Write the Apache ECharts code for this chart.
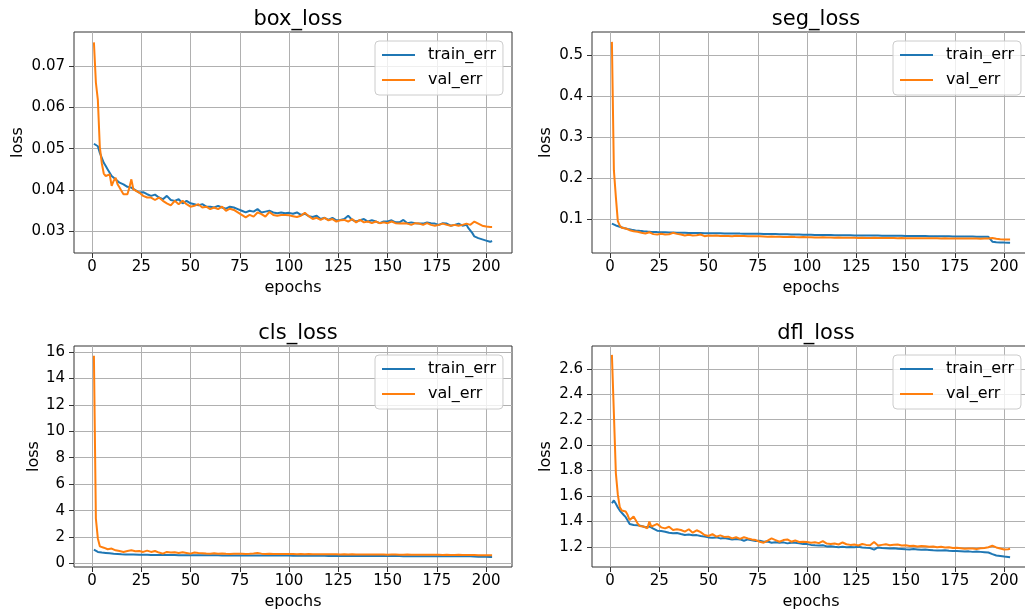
<!DOCTYPE html>
<html>
<head>
<meta charset="utf-8">
<title>losses</title>
<script src="https://cdn.jsdelivr.net/npm/echarts@6/dist/echarts.min.js"></script>
<style>
  html, body { margin: 0; padding: 0; background: #fff; }
  #main { width: 1025px; height: 611px; }
</style>
</head>
<body>
<div id="main"></div>
<script>
const epochs = [1,2,3,4,5,6,7,8,9,10,
  11,12,13,14,15,16,17,18,19,20,
  21,22,24,26,28,30,32,33,34,36,
  38,40,42,44,46,48,50,52,54,56,
  58,60,62,64,66,68,70,72,74,76,
  78,80,82,84,86,88,90,92,94,96,
  98,100,102,104,106,108,110,112,114,116,
  118,120,122,124,126,128,130,132,134,136,
  138,140,142,144,146,148,150,152,154,156,
  158,160,162,164,166,168,170,172,174,176,
  178,180,182,184,186,188,190,191,192,193,
  194,196,198,200,202,203]

const boxTrain = [0.0512,0.0510,0.0506,0.0490,0.0478,0.0466,0.0458,0.0450,0.0442,0.0434,
  0.0430,0.0426,0.0422,0.0418,0.0416,0.0414,0.0411,0.0408,0.0407,0.0406,
  0.0403,0.0400,0.0394,0.0395,0.0390,0.0386,0.0389,0.0385,0.0382,0.0378,
  0.0386,0.0376,0.0374,0.0378,0.0368,0.0374,0.0368,0.0366,0.0363,0.0366,
  0.0360,0.0360,0.0358,0.0362,0.0358,0.0355,0.0360,0.0358,0.0354,0.0350,
  0.0346,0.0350,0.0348,0.0354,0.0346,0.0348,0.0350,0.0346,0.0344,0.0346,
  0.0344,0.0345,0.0343,0.0346,0.0340,0.0343,0.0337,0.0335,0.0338,0.0330,
  0.0333,0.0328,0.0333,0.0327,0.0328,0.0330,0.0338,0.0328,0.0324,0.0327,
  0.0330,0.0324,0.0327,0.0324,0.0320,0.0324,0.0324,0.0327,0.0322,0.0322,
  0.0328,0.0320,0.0322,0.0320,0.0319,0.0319,0.0322,0.0320,0.0319,0.0316,
  0.0320,0.0319,0.0314,0.0316,0.0319,0.0314,0.0316,0.0308,0.0312,0.0296,
  0.0288,0.0284,0.0281,0.0278,0.0275,0.0277]
const boxVal = [0.0757,0.0660,0.0618,0.0504,0.0465,0.0440,0.0434,0.0432,0.0438,0.0410,
  0.0422,0.0430,0.0414,0.0406,0.0398,0.0390,0.0386,0.0390,0.0406,0.0426,
  0.0402,0.0398,0.0394,0.0386,0.0382,0.0382,0.0376,0.0378,0.0382,0.0374,
  0.0368,0.0363,0.0374,0.0366,0.0374,0.0366,0.0360,0.0362,0.0366,0.0358,
  0.0360,0.0354,0.0358,0.0354,0.0360,0.0350,0.0355,0.0352,0.0346,0.0340,
  0.0334,0.0340,0.0336,0.0346,0.0342,0.0336,0.0347,0.0340,0.0338,0.0340,
  0.0340,0.0339,0.0337,0.0335,0.0338,0.0345,0.0337,0.0330,0.0333,0.0328,
  0.0333,0.0327,0.0330,0.0324,0.0327,0.0328,0.0324,0.0330,0.0322,0.0328,
  0.0322,0.0324,0.0320,0.0324,0.0320,0.0322,0.0320,0.0324,0.0320,0.0319,
  0.0320,0.0319,0.0316,0.0320,0.0319,0.0316,0.0320,0.0316,0.0314,0.0316,
  0.0319,0.0316,0.0314,0.0316,0.0314,0.0316,0.0319,0.0318,0.0316,0.0318,
  0.0324,0.0319,0.0314,0.0312,0.0311,0.0311]

const segTrain = [0.0900,0.0870,0.0855,0.0840,0.0822,0.0805,0.0792,0.0780,0.0768,0.0757,
  0.0748,0.0742,0.0735,0.0730,0.0724,0.0718,0.0714,0.0708,0.0705,0.0700,
  0.0698,0.0696,0.0693,0.0690,0.0689,0.0685,0.0683,0.0681,0.0679,0.0677,
  0.0676,0.0674,0.0673,0.0671,0.0670,0.0668,0.0667,0.0666,0.0664,0.0663,
  0.0662,0.0661,0.0659,0.0659,0.0657,0.0656,0.0656,0.0654,0.0653,0.0652,
  0.0650,0.0648,0.0647,0.0645,0.0643,0.0641,0.0640,0.0637,0.0636,0.0634,
  0.0631,0.0628,0.0627,0.0625,0.0624,0.0622,0.0621,0.0620,0.0619,0.0618,
  0.0617,0.0615,0.0615,0.0613,0.0612,0.0612,0.0610,0.0610,0.0608,0.0608,
  0.0606,0.0606,0.0604,0.0604,0.0602,0.0603,0.0600,0.0600,0.0599,0.0598,
  0.0597,0.0596,0.0595,0.0594,0.0593,0.0592,0.0591,0.0590,0.0589,0.0588,
  0.0587,0.0586,0.0585,0.0584,0.0583,0.0582,0.0581,0.0580,0.0579,0.0578,
  0.0460,0.0448,0.0442,0.0438,0.0435,0.0433]
const segVal = [0.532,0.220,0.155,0.096,0.085,0.080,0.079,0.078,0.076,0.074,
  0.073,0.0716,0.071,0.070,0.069,0.0676,0.067,0.066,0.067,0.069,
  0.066,0.0644,0.0636,0.0652,0.0636,0.064,0.0676,0.0700,0.065,0.0636,
  0.061,0.0627,0.061,0.0618,0.0636,0.0595,0.061,0.0605,0.061,0.0600,
  0.0598,0.0600,0.0592,0.0605,0.0596,0.0598,0.0595,0.0590,0.0594,0.0590,
  0.0585,0.0580,0.0586,0.0578,0.0582,0.0576,0.0575,0.0578,0.0572,0.0570,
  0.0572,0.0566,0.0568,0.0565,0.0562,0.0566,0.0560,0.0562,0.0558,0.0560,
  0.0556,0.0558,0.0554,0.0556,0.0552,0.0554,0.0552,0.0550,0.0553,0.0550,
  0.0548,0.0551,0.0547,0.0549,0.0545,0.0548,0.0546,0.0544,0.0546,0.0543,
  0.0545,0.0542,0.0544,0.0541,0.0543,0.0540,0.0542,0.0539,0.0540,0.0538,
  0.0539,0.0536,0.0538,0.0535,0.0537,0.0534,0.0535,0.0534,0.0536,0.0540,
  0.0550,0.0530,0.0520,0.0515,0.0512,0.0512]

const clsTrain = [1.05,0.93,0.88,0.85,0.83,0.81,0.80,0.78,0.77,0.75,
  0.74,0.73,0.72,0.71,0.70,0.70,0.69,0.69,0.68,0.68,
  0.68,0.67,0.67,0.66,0.66,0.65,0.65,0.65,0.65,0.64,
  0.64,0.64,0.64,0.63,0.63,0.63,0.63,0.63,0.62,0.62,
  0.62,0.62,0.62,0.62,0.61,0.61,0.61,0.61,0.61,0.61,
  0.61,0.60,0.60,0.60,0.60,0.60,0.60,0.60,0.60,0.60,
  0.60,0.60,0.59,0.59,0.59,0.59,0.59,0.59,0.59,0.59,
  0.59,0.58,0.58,0.58,0.58,0.58,0.58,0.58,0.58,0.58,
  0.58,0.57,0.57,0.57,0.57,0.57,0.57,0.57,0.57,0.57,
  0.56,0.56,0.56,0.56,0.56,0.56,0.56,0.56,0.56,0.55,
  0.55,0.55,0.55,0.55,0.55,0.55,0.55,0.55,0.55,0.54,
  0.53,0.52,0.51,0.51,0.50,0.50]
const clsVal = [15.7,3.4,1.9,1.3,1.22,1.2,1.15,1.08,1.12,1.13,
  1.05,1.0,1.02,0.95,0.92,0.88,0.9,0.95,0.92,1.0,
  1.1,0.93,0.95,0.88,0.98,0.88,0.95,1.1,0.83,0.75,
  0.88,0.83,0.85,0.8,0.85,0.8,0.75,0.83,0.8,0.78,
  0.76,0.75,0.77,0.75,0.76,0.74,0.73,0.75,0.74,0.75,
  0.73,0.74,0.76,0.8,0.75,0.73,0.74,0.72,0.73,0.72,
  0.73,0.72,0.72,0.71,0.72,0.71,0.72,0.71,0.70,0.71,
  0.70,0.71,0.70,0.70,0.69,0.70,0.69,0.70,0.69,0.69,
  0.68,0.69,0.68,0.69,0.68,0.68,0.67,0.68,0.69,0.67,
  0.67,0.68,0.67,0.67,0.66,0.67,0.66,0.66,0.67,0.66,
  0.65,0.66,0.65,0.65,0.66,0.65,0.64,0.65,0.64,0.64,
  0.64,0.63,0.63,0.62,0.62,0.62]

const dflTrain = [1.543,1.565,1.538,1.51,1.485,1.47,1.45,1.433,1.406,1.38,
  1.372,1.372,1.371,1.37,1.367,1.364,1.36,1.354,1.357,1.36,
  1.35,1.343,1.327,1.324,1.319,1.311,1.306,1.31,1.308,1.30,
  1.293,1.296,1.29,1.292,1.285,1.28,1.274,1.272,1.274,1.266,
  1.269,1.264,1.258,1.262,1.258,1.248,1.258,1.252,1.245,1.248,
  1.24,1.242,1.232,1.235,1.232,1.235,1.227,1.232,1.232,1.227,
  1.221,1.221,1.215,1.212,1.21,1.212,1.203,1.205,1.20,1.197,
  1.2,1.197,1.198,1.196,1.20,1.195,1.192,1.19,1.178,1.195,
  1.19,1.188,1.186,1.188,1.184,1.183,1.18,1.179,1.182,1.179,
  1.176,1.178,1.175,1.172,1.171,1.17,1.172,1.168,1.166,1.166,
  1.165,1.163,1.164,1.16,1.162,1.16,1.158,1.157,1.155,1.15,
  1.142,1.131,1.127,1.123,1.12,1.118]
const dflVal = [2.71,2.25,1.78,1.61,1.512,1.485,1.496,1.477,1.45,1.41,
  1.40,1.438,1.43,1.385,1.364,1.353,1.36,1.372,1.346,1.398,
  1.358,1.36,1.38,1.353,1.345,1.358,1.332,1.34,1.338,1.332,
  1.319,1.338,1.311,1.33,1.315,1.293,1.285,1.30,1.28,1.29,
  1.278,1.28,1.266,1.275,1.262,1.275,1.266,1.258,1.253,1.24,
  1.232,1.248,1.266,1.253,1.24,1.253,1.258,1.24,1.25,1.238,
  1.24,1.237,1.232,1.235,1.229,1.245,1.225,1.222,1.226,1.218,
  1.234,1.22,1.215,1.218,1.21,1.222,1.215,1.212,1.237,1.21,
  1.215,1.22,1.212,1.216,1.218,1.21,1.212,1.206,1.208,1.203,
  1.207,1.205,1.20,1.203,1.197,1.20,1.195,1.197,1.19,1.192,
  1.188,1.184,1.186,1.186,1.183,1.188,1.19,1.192,1.196,1.202,
  1.208,1.195,1.187,1.179,1.18,1.184]

// tick labels
const xTicks = [0, 25, 50, 75, 100, 125, 150, 175, 200]
const boxTicks = [0.03, 0.04, 0.05, 0.06, 0.07]
const segTicks = [0.1, 0.2, 0.3, 0.4, 0.5]
const clsTicks = [0, 2, 4, 6, 8, 10, 12, 14, 16]
const dflTicks = [1.2, 1.4, 1.6, 1.8, 2.0, 2.2, 2.4, 2.6]

const FONT = 'DejaVu Sans'
const BLUE = '#1f77b4'
const ORANGE = '#ff7f0e'

const panels = [
  { title: 'box_loss', train: boxTrain, val: boxVal, ticks: boxTicks, digits: 2, ymin: 0.0248, ymax: 0.0782, left: 74, top: 32, nameGap: 48 },
  { title: 'seg_loss', train: segTrain, val: segVal, ticks: segTicks, digits: 1, ymin: 0.0185, ymax: 0.556, left: 592, top: 32, nameGap: 38 },
  { title: 'cls_loss', train: clsTrain, val: clsVal, ticks: clsTicks, digits: 0, ymin: -0.26, ymax: 16.44, left: 74, top: 346, nameGap: 32 },
  { title: 'dfl_loss', train: dflTrain, val: dflVal, ticks: dflTicks, digits: 1, ymin: 1.041, ymax: 2.78, left: 592, top: 346, nameGap: 38 }
]
const W = 438
const H = 221

function pairs (vals) {
  return epochs.map((e, i) => [e, vals[i]])
}

const option = {
  animation: false,
  backgroundColor: '#fff',
  textStyle: { fontFamily: FONT },
  title: [],
  legend: [],
  grid: [],
  xAxis: [],
  yAxis: [],
  series: []
}

panels.forEach((p, i) => {
  option.title.push({
    text: p.title,
    left: p.left + W / 2,
    top: p.top - 28,
    textAlign: 'center',
    textStyle: { fontFamily: FONT, fontSize: 21, fontWeight: 'normal', color: '#000' }
  })
  option.legend.push({
    data: ['train_err', 'val_err'],
    orient: 'vertical',
    left: p.left + W - 137,
    top: p.top + 9,
    icon: 'rect',
    itemWidth: 33,
    itemHeight: 2,
    itemGap: 9,
    padding: [6, 7, 7, 7],
    backgroundColor: 'rgba(255,255,255,0.8)',
    borderColor: '#cccccc',
    borderWidth: 1,
    borderRadius: 4,
    textStyle: { fontFamily: FONT, fontSize: 16, color: '#000', lineHeight: 16, padding: [0, 0, 0, 8] }
  })
  option.grid.push({
    left: p.left, top: p.top, width: W, height: H,
    show: true, borderColor: '#333', borderWidth: 1,
    outerBoundsMode: 'none'
  })
  option.xAxis.push({
    type: 'value', gridIndex: i, min: -9.1, max: 213.1,
    name: 'epochs', nameLocation: 'middle', nameGap: 27,
    nameTextStyle: { fontFamily: FONT, fontSize: 16, color: '#000' },
    axisLine: { show: false, onZero: false },
    axisTick: { show: true, inside: false, length: 5, customValues: xTicks, lineStyle: { color: '#333' } },
    axisLabel: { customValues: xTicks, margin: 7, fontFamily: FONT, fontSize: 15, color: '#000' },
    splitLine: { show: true, lineStyle: { color: '#b0b0b0', width: 1 } }
  })
  option.yAxis.push({
    type: 'value', gridIndex: i, min: p.ymin, max: p.ymax,
    name: 'loss', nameLocation: 'middle', nameGap: p.nameGap, nameRotate: 90,
    nameTextStyle: { fontFamily: FONT, fontSize: 16, color: '#000' },
    axisLine: { show: false, onZero: false },
    axisTick: { show: true, inside: false, length: 5, customValues: p.ticks, lineStyle: { color: '#333' } },
    axisLabel: {
      customValues: p.ticks, margin: 9, fontFamily: FONT, fontSize: 15, color: '#000',
      formatter: v => v.toFixed(p.digits)
    },
    splitLine: { show: true, lineStyle: { color: '#b0b0b0', width: 1 } }
  })
  option.series.push({
    name: 'train_err', type: 'line', xAxisIndex: i, yAxisIndex: i,
    showSymbol: false, color: BLUE, lineStyle: { width: 2, color: BLUE },
    data: pairs(p.train)
  })
  option.series.push({
    name: 'val_err', type: 'line', xAxisIndex: i, yAxisIndex: i,
    showSymbol: false, color: ORANGE, lineStyle: { width: 2, color: ORANGE },
    data: pairs(p.val)
  })
})

const chart = echarts.init(document.getElementById('main'))
chart.setOption(option)
window.addEventListener('resize', () => chart.resize())
</script>
</body>
</html>
